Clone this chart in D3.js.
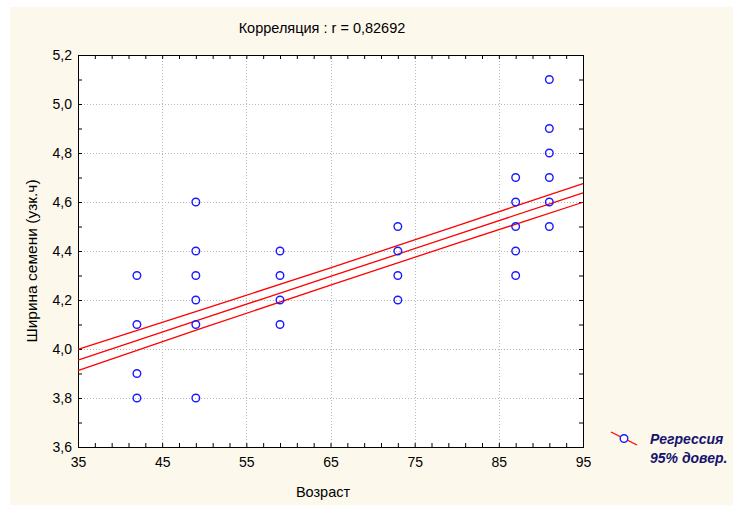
<!DOCTYPE html>
<html>
<head>
<meta charset="utf-8">
<script src="https://cdn.jsdelivr.net/npm/d3@7"></script>
<style>
  body { margin: 0; background: #fff; }
  text { font-family: "Liberation Sans", Arial, sans-serif; }
</style>
</head>
<body>
<div id="chart"></div>
<script>
// точки: возраст и ширина семени
const ageX   = [42, 42, 42, 42, 49, 49, 49, 49, 49, 49, 59, 59, 59, 59, 73, 73, 73, 73, 87, 87, 87, 87, 87, 91, 91, 91, 91, 91, 91];
const widthY = [4.3, 4.1, 3.9, 3.8, 4.6, 4.4, 4.3, 4.2, 4.1, 3.8, 4.4, 4.3, 4.2, 4.1, 4.5, 4.4, 4.3, 4.2, 4.7, 4.6, 4.5, 4.4, 4.3, 5.1, 4.9, 4.8, 4.7, 4.6, 4.5];

// регрессия и 95% доверительная полоса
const bandX     = [35, 50, 65, 80, 95];
const regMid    = [3.955, 4.126, 4.296, 4.467, 4.637];
const regUpper  = [3.998, 4.164, 4.331, 4.503, 4.675];
const regLower  = [3.912, 4.088, 4.261, 4.431, 4.599];

const xTicks = [35, 45, 55, 65, 75, 85, 95];
const yTicks = [3.6, 3.8, 4.0, 4.2, 4.4, 4.6, 4.8, 5.0, 5.2];

const width = 733;
const height = 506;
const pL = 78, pR = 583, pT = 55, pB = 447;

let svg = d3.select("#chart")
    .append("svg")
    .attr("width", width)
    .attr("height", height);

// фон
svg.append("rect")
    .attr("x", 10).attr("y", 7)
    .attr("width", width - 10).attr("height", 498)
    .attr("fill", "#fdf8ec");

svg.append("rect")
    .attr("x", pL).attr("y", pT)
    .attr("width", pR - pL).attr("height", pB - pT)
    .attr("fill", "#fff");

let xScale = d3.scaleLinear().domain([35, 95]).range([pL, pR]);
let yScale = d3.scaleLinear().domain([3.6, 5.2]).range([pB, pT]);

// сетка
svg.append("g")
    .selectAll("line")
    .data(xTicks.slice(1, -1))
    .join("line")
    .attr("x1", d => Math.round(xScale(d)) + 0.5)
    .attr("x2", d => Math.round(xScale(d)) + 0.5)
    .attr("y1", pT).attr("y2", pB)
    .attr("stroke", "#b8b8b8")
    .attr("stroke-dasharray", "1,2");

svg.append("g")
    .selectAll("line")
    .data(yTicks.slice(1, -1))
    .join("line")
    .attr("y1", d => Math.round(yScale(d)) + 0.5)
    .attr("y2", d => Math.round(yScale(d)) + 0.5)
    .attr("x1", pL).attr("x2", pR)
    .attr("stroke", "#b8b8b8")
    .attr("stroke-dasharray", "1,2");

// оси: тики внутрь на всех сторонах
const fmt = d => d3.format(".1f")(d).replace(".", ",");
const xMinor = d3.range(35, 95.01, 2);
const yMinor = d3.range(3.6, 5.201, 0.1);

svg.append("g")
    .attr("transform", `translate(0, ${pB})`)
    .call(d3.axisTop(xScale).tickValues(xMinor).tickSize(4).tickFormat(""))
    .call(g => g.select(".domain").remove());
svg.append("g")
    .attr("transform", `translate(0, ${pT})`)
    .call(d3.axisBottom(xScale).tickValues(xMinor).tickSize(4).tickFormat(""))
    .call(g => g.select(".domain").remove());
svg.append("g")
    .attr("transform", `translate(${pL}, 0)`)
    .call(d3.axisRight(yScale).tickValues(yMinor).tickSize(4).tickFormat(""))
    .call(g => g.select(".domain").remove());
svg.append("g")
    .attr("transform", `translate(${pR}, 0)`)
    .call(d3.axisLeft(yScale).tickValues(yMinor).tickSize(4).tickFormat(""))
    .call(g => g.select(".domain").remove());

// подписи
svg.append("g")
    .attr("transform", `translate(0, ${pB})`)
    .call(d3.axisBottom(xScale).tickValues(xTicks).tickSize(0).tickPadding(10).tickFormat(d => d))
    .call(g => g.select(".domain").remove())
    .selectAll("text")
    .attr("fill", "#000")
    .style("font-size", "14px");

svg.append("g")
    .attr("transform", `translate(${pL}, 0)`)
    .call(d3.axisLeft(yScale).tickValues(yTicks).tickSize(0).tickPadding(6).tickFormat(fmt))
    .call(g => g.select(".domain").remove())
    .selectAll("text")
    .attr("fill", "#000")
    .style("font-size", "14px");

svg.append("rect")
    .attr("x", pL + 0.5).attr("y", pT + 0.5)
    .attr("width", pR - pL).attr("height", pB - pT)
    .attr("fill", "none")
    .attr("stroke", "#000");

// линии регрессии
let line = d3.line()
    .x((d, i) => xScale(bandX[i]))
    .y(d => yScale(d))
    .curve(d3.curveMonotoneX);

svg.append("g")
    .selectAll("path")
    .data([regUpper, regMid, regLower])
    .join("path")
    .attr("d", line)
    .attr("fill", "none")
    .attr("stroke", "#ff0000")
    .attr("stroke-width", 1.3);

// точки
svg.append("g")
    .selectAll("circle")
    .data(ageX.map((x, i) => ({x: x, y: widthY[i]})))
    .join("circle")
    .attr("cx", d => xScale(d.x))
    .attr("cy", d => yScale(d.y))
    .attr("r", 3.8)
    .attr("fill", "none")
    .attr("stroke", "#1a1aff")
    .attr("stroke-width", 1.4);

// заголовок и подписи осей
svg.append("text")
    .attr("x", 322).attr("y", 33)
    .attr("text-anchor", "middle")
    .style("font-size", "14.5px")
    .text("Корреляция : r = 0,82692");

svg.append("text")
    .attr("x", 323).attr("y", 497)
    .attr("text-anchor", "middle")
    .style("font-size", "14.5px")
    .text("Возраст");

svg.append("text")
    .attr("transform", `translate(37, ${(pT + pB) / 2 + 10}) rotate(-90)`)
    .attr("text-anchor", "middle")
    .style("font-size", "15.5px")
    .text("Ширина семени (узк.ч)");

// легенда
svg.append("line")
    .attr("x1", 611).attr("y1", 432)
    .attr("x2", 637).attr("y2", 445)
    .attr("stroke", "#ff0000")
    .attr("stroke-width", 1.3);
svg.append("circle")
    .attr("cx", 624).attr("cy", 438.5)
    .attr("r", 3.8)
    .attr("fill", "#fff")
    .attr("stroke", "#1a1aff")
    .attr("stroke-width", 1.4);

svg.append("g")
    .selectAll("text")
    .data(["Регрессия", "95% довер."])
    .join("text")
    .attr("x", 650)
    .attr("y", (d, i) => 444 + i * 19)
    .attr("fill", "#14146e")
    .style("font-size", "14px")
    .style("font-weight", "bold")
    .style("font-style", "italic")
    .text(d => d);
</script>
</body>
</html>
